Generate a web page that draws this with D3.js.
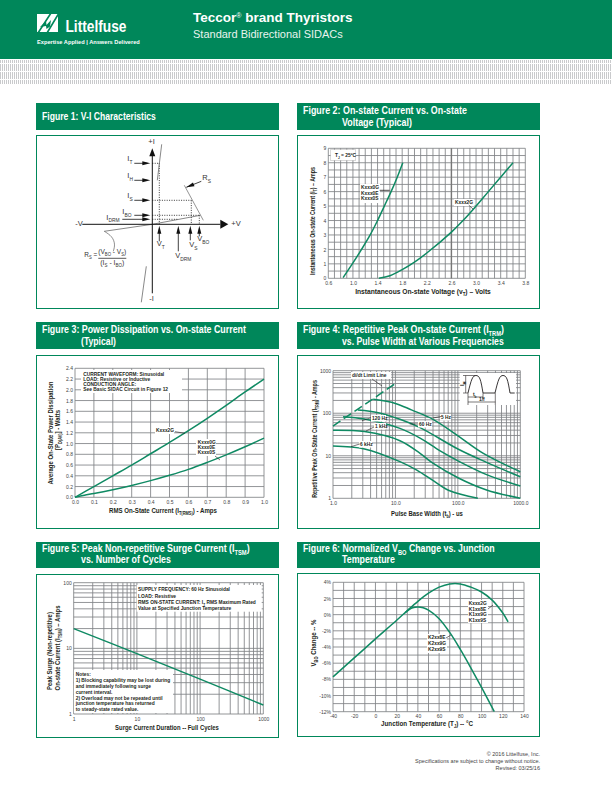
<!DOCTYPE html>
<html>
<head>
<meta charset="utf-8">
<script src="https://cdn.jsdelivr.net/npm/d3@7"></script>
<style>
html, body { margin: 0; padding: 0; background: #fff; }
svg { display: block; }
text { font-family: "Liberation Sans", sans-serif; fill: #231f20; }
.ttl { font-weight: bold; font-size: 10px; fill: #fff; }
.tick { font-size: 5px; fill: #444; }
.axl { font-weight: bold; font-size: 8px; }
.note { font-weight: bold; font-size: 5.6px; }
.grid { stroke: #808285; stroke-width: .85; fill: none; }
.curve { stroke: #0f8a63; stroke-width: 1.5; fill: none; }
.vi { font-size: 7.5px; fill: #333; }
</style>
</head>
<body>
<svg id="page" width="612" height="792" viewBox="0 0 612 792"></svg>
<script>
const GREEN = '#00875a';

// Figure 1 (schematic, in px units around the origin of the V-I axes)
const viUpperLine = [[5, 44], [9.4, 80]];
const viLower = [[-6, -42], [-11, -78]];
const viOff = [[-48, -7], [0, 0], [48, 9]];
const viRs = [[32, 39], [51, 4]];
const viDotted = [
    [[0, 61], [7, 61]], [[7, 61], [7, 0]],
    [[0, 24], [39, 24]], [[39, 24], [39, 0]],
    [[0, 9], [47, 9]], [[47, 9], [47, 0]],
    [[0, 5], [26, 5]]
];
const viLeftArrows = [[-18, 61], [-18, 44], [-18, 24], [-18, 9], [-30, 5]];
const viLeftNames = [['I', 'T', -25, 63], ['I', 'H', -25, 46], ['I', 'S', -25, 26], ['I', 'BO', -30, 10], ['I', 'DRM', -46, 4.5]];
const viUpArrows = [[7, -17], [26, -27], [38, -16], [47, -12]];
const viUpNames = [['V', 'T', 4.4, -22], ['V', 'DRM', 23, -34], ['V', 'S', 37, -23], ['V', 'BO', 45, -17]];

// Figure 2
const f2X = [0.6, 1.0, 1.4, 1.8, 2.2, 2.6, 3.0, 3.4, 3.8];
const f2Y = [0, 1, 2, 3, 4, 5, 6, 7, 8, 9];
const f2A = [[0.84, 0.05], [0.99, 1], [1.14, 2], [1.28, 3], [1.4, 4], [1.51, 5], [1.62, 6], [1.72, 7], [1.81, 8]];
const f2B = [[1.42, 0], [1.6, 0.18], [1.8, 0.6], [2.0, 1.12], [2.2, 1.75], [2.6, 3.2], [2.8, 4.05], [3.0, 5], [3.2, 6], [3.4, 7], [3.6, 8]];

// Figure 3
const f3X = [0, 0.1, 0.2, 0.3, 0.4, 0.5, 0.6, 0.7, 0.8, 0.9, 1.0];
const f3Y = [0, 0.2, 0.4, 0.6, 0.8, 1.0, 1.2, 1.4, 1.6, 1.8, 2.0, 2.2, 2.4];
const f3A = [[0, 0], [0.1, 0.2], [0.2, 0.4], [0.3, 0.6], [0.4, 0.81], [0.5, 1.02], [0.6, 1.24], [0.7, 1.47], [0.8, 1.71], [0.9, 1.96], [1, 2.2]];
const f3B = [[0, 0], [0.05, 0.04], [0.1, 0.07], [0.2, 0.14], [0.3, 0.22], [0.4, 0.31], [0.5, 0.41], [0.6, 0.52], [0.7, 0.65], [0.8, 0.79], [0.9, 0.94], [1, 1.1]];

// Figure 4
const f4Limit = [[1, 50], [10, 500]];
const f4Curves = [
    [[4.4, 212], [10, 170], [18, 120], [40, 72], [102, 29], [256, 11.4], [1000, 4.2]],
    [[2.5, 119], [5.3, 103], [11.8, 72], [24.8, 46], [102, 14.2], [288, 7], [1000, 3.2]],
    [[1.45, 83], [3.2, 73], [11.8, 44], [24.8, 26], [52, 13], [102, 7.5], [288, 3.6], [1000, 1.95]],
    [[1, 40], [3.2, 37], [11.8, 22.6], [24.8, 11.4], [40.4, 6.6], [102, 3], [288, 1.57], [1000, 1]],
    [[1, 17], [3.2, 14.5], [11.8, 7.3], [22, 4.6], [40.4, 2.6], [74, 1.5], [209, 1]]
];

// Figure 5
const f5Line = [[1, 20], [10, 8.3], [100, 3.4], [1000, 1.37]];

// Figure 6
const f6X = [-40, -20, 0, 20, 40, 60, 80, 100, 120, 140];
const f6Y = [-12, -10, -8, -6, -4, -2, 0, 2, 4];
const f6A = [[-40, -7.7], [-20, -5.35], [0, -3], [20, -0.7], [30, 0.5], [40, 1.65], [50, 2.65], [60, 3.4], [70, 3.8], [80, 3.8], [90, 3.4], [100, 2.8], [110, 1.8], [120, 0.2], [125, -0.9]];
const f6B = [[28, 0.25], [35, 0.85], [40, 0.95], [45, 0.85], [50, 0.55], [60, -0.5], [70, -2.2], [80, -4.3], [90, -6.6], [100, -9], [112, -12]];

const svg = d3.select('#page');
const line = d3.line().curve(d3.curveCatmullRom.alpha(0.5));

// no narrow font here, so squeeze the text sideways to the width it has in the chart
function fit(t, w) {
    const x = +t.attr('x') || 0, y = +t.attr('y') || 0;
    const k = w / t.node().getComputedTextLength();
    t.attr('transform', `${t.attr('transform') || ''} translate(${x} ${y}) scale(${k} 1) translate(${-x} ${-y})`);
    return t;
}

function squeeze(t, k) {
    return fit(t, t.node().getComputedTextLength() * k);
}

function band(x, y, w, h, lines) {
    svg.append('rect').attr('x', x).attr('y', y).attr('width', w).attr('height', h).attr('fill', GREEN);
    lines.forEach(l => {
        const t = svg.append('text').attr('class', 'ttl').attr('x', x + l[1]).attr('y', y + l[2]);
        sub(t, l[0]);
        fit(t, l[3]);
    });
}

// "I_{T}" style markup: ^ and _ segments become baseline shifted tspans
function sub(t, str) {
    const size = parseFloat(getComputedStyle(t.node()).fontSize);
    let shift = 0;
    str.split(/(_\{[^}]*\}|\^\{[^}]*\})/).forEach(part => {
        if (!part) return;
        const m = part.match(/^([_^])\{(.*)\}$/);
        const ts = t.append('tspan');
        if (m) {
            const d = m[1] === '_' ? size * 0.3 : -size * 0.35;
            ts.attr('dy', d - shift).style('font-size', (size * 0.65) + 'px').text(m[2]);
            shift = d;
        } else {
            ts.attr('dy', -shift).text(part);
            shift = 0;
        }
    });
}

function frame(x, y, w, h) {
    svg.append('rect').attr('x', x + .5).attr('y', y + .5).attr('width', w - 1).attr('height', h - 1)
        .attr('fill', '#fff').attr('stroke', GREEN).attr('stroke-width', 1);
}

function plot(o) {
    const g = svg.append('g');
    const x = o.xs, y = o.ys;
    const [x0, x1] = x.range(), [y0, y1] = y.range();
    o.xGrid.forEach(v => g.append('line').attr('class', 'grid').attr('x1', x(v)).attr('x2', x(v)).attr('y1', y0).attr('y2', y1));
    o.yGrid.forEach(v => g.append('line').attr('class', 'grid').attr('x1', x0).attr('x2', x1).attr('y1', y(v)).attr('y2', y(v)));
    const xa = d3.axisBottom(x).tickValues(o.xTicks).tickSize(0).tickPadding(3).tickFormat(o.xFmt);
    const ya = d3.axisLeft(y).tickValues(o.yTicks).tickSize(0).tickPadding(2).tickFormat(o.yFmt);
    const gx = g.append('g').attr('transform', `translate(0,${y0})`).call(xa);
    const gy = g.append('g').attr('transform', `translate(${x0},0)`).call(ya);
    [gx, gy].forEach(a => {
        a.select('.domain').remove();
        a.attr('font-family', null).attr('font-size', null);
        a.selectAll('text').attr('class', 'tick');
    });
    return g;
}

function curve(g, xs, ys, pts, dash) {
    const p = g.append('path').attr('class', 'curve').attr('d', line.x(d => xs(d[0])).y(d => ys(d[1]))(pts));
    if (dash) p.attr('stroke-dasharray', dash);
}

function whiteBox(g, x, y, w, h) {
    g.append('rect').attr('x', x).attr('y', y).attr('width', w).attr('height', h).attr('fill', '#fff');
}

function notes(g, x, y, step, lines) {
    lines.forEach((l, i) => {
        const t = g.append('text').attr('class', 'note').attr('x', x).attr('y', y + i * step);
        sub(t, l);
        squeeze(t, 0.87);
    });
}

function leader(g, pts, w) {
    g.append('path').attr('d', d3.line()(pts)).attr('fill', 'none').attr('stroke', '#231f20').attr('stroke-width', w || .6);
}

function vLabel(str, x, y, w) {
    const t = svg.append('text').attr('class', 'axl').attr('transform', `translate(${x},${y}) rotate(-90)`).attr('text-anchor', 'middle');
    sub(t, str);
    fit(t, w);
}

function xLabel(str, x, y, w) {
    const t = svg.append('text').attr('class', 'axl').attr('x', x).attr('y', y).attr('text-anchor', 'middle');
    sub(t, str);
    fit(t, w);
}

// ---- page header ----
svg.append('rect').attr('width', 612).attr('height', 59).attr('fill', GREEN);
const pat = svg.append('defs').append('pattern').attr('id', 'hatch').attr('patternUnits', 'userSpaceOnUse')
    .attr('width', 40).attr('height', 8);
d3.range(0, 40, 2).forEach(i => pat.append('rect').attr('x', i).attr('width', 1).attr('height', 7).attr('fill', '#c9cacc'));
svg.append('rect').attr('y', 60).attr('width', 612).attr('height', 24).attr('fill', 'url(#hatch)');

// logo
svg.append('rect').attr('x', 37).attr('y', 14).attr('width', 21).attr('height', 18).attr('fill', '#fff');
svg.append('path').attr('fill', 'none').attr('stroke', GREEN).attr('stroke-width', 1.6)
    .attr('d', 'M51 13L38 33M59 13L47 33');
svg.append('path').attr('fill', GREEN).attr('d', 'M40 27L46 21L46.5 25L51 20L50 26.5L46.5 29L46 26Z');
fit(svg.append('text').attr('x', 65.5).attr('y', 32).style('font-size', '17px').attr('font-weight', 'bold').style('fill', '#fff').text('Littelfuse'), 61);
fit(svg.append('text').attr('x', 37).attr('y', 44.5).style('font-size', '5.6px').attr('font-weight', 'bold').style('fill', '#fff')
    .text('Expertise Applied  |  Answers Delivered'), 103);

const hd = svg.append('text').attr('x', 193).attr('y', 22).style('font-size', '13.5px').attr('font-weight', 'bold').style('fill', '#fff');
hd.append('tspan').text('Teccor');
hd.append('tspan').style('font-size', '7px').attr('dy', -4).attr('font-weight', 'normal').style('fill', '#fff').text('®');
hd.append('tspan').attr('dy', 4).text(' brand Thyristors');
svg.append('text').attr('x', 193).attr('y', 38).style('font-size', '11px').style('fill', '#e8f3ee').text('Standard Bidirectional SIDACs');

// ---- bands and frames ----
band(36, 103, 243, 27, [['Figure 1: V-I Characteristics', 6, 17, 114]]);
band(297, 103, 243, 27, [['Figure 2: On-state Current vs. On-state', 6, 11, 164], ['Voltage (Typical)', 45, 23, 70]]);
band(36, 322, 243, 27, [['Figure 3: Power Dissipation vs. On-state Current', 6, 11, 204], ['(Typical)', 45, 23, 35]]);
band(297, 322, 243, 27, [['Figure 4: Repetitive Peak On-state Current (I_{TRM})', 6, 11, 201], ['vs. Pulse Width at Various Frequencies', 45, 23, 162]]);
band(36, 542, 243, 26, [['Figure 5: Peak Non-repetitive Surge Current (I_{TSM})', 6, 10, 208], ['vs. Number of Cycles', 45, 21, 90]]);
band(297, 542, 243, 26, [['Figure 6: Normalized V_{BO} Change vs. Junction', 6, 10, 192], ['Temperature', 45, 21, 53]]);
frame(36, 135, 243, 174);
frame(297, 135, 243, 174);
frame(36, 355, 243, 174);
frame(297, 355, 243, 174);
frame(36, 574, 243, 164);
frame(297, 573, 243, 164);

// ---- figure 1 ----
{
    const ox = 152.3, oy = 224.3;
    const sx = d3.scaleLinear().domain([0, 100]).range([ox, ox + 100]);
    const sy = d3.scaleLinear().domain([0, 100]).range([oy, oy - 100]);
    const g = svg.append('g');
    const p = pts => d3.line().x(d => sx(d[0])).y(d => sy(d[1]))(pts);
    const thin = (pts, col, w, dash) => g.append('path').attr('d', p(pts)).attr('fill', 'none')
        .attr('stroke', col).attr('stroke-width', w).attr('stroke-dasharray', dash || null);
    viDotted.forEach(d => thin(d, '#222', .9, '1 1.4'));
    thin(viUpperLine, '#555', .7);
    thin(viLower, '#555', .7);
    thin(viOff, '#555', .7);
    thin(viRs, '#666', .7);
    thin([[-70, 0], [68, 0]], '#111', 1);
    thin([[0, -69], [0, 70]], '#111', 1);
    const tri = (a, b, hw) => {
        const dx = b[0] - a[0], dy = b[1] - a[1], len = Math.hypot(dx, dy), ux = dx / len, uy = dy / len;
        g.append('path').attr('fill', '#111').attr('d', p([b, [b[0] - ux * 8 - uy * hw, b[1] - uy * 8 + ux * hw], [b[0] - ux * 8 + uy * hw, b[1] - uy * 8 - ux * hw]]) + 'Z');
    };
    tri([0, 60], [0, 76], 3);
    tri([60, 0], [76, 0], 4.5);
    viLeftArrows.forEach(a => {
        thin([a, [-5, a[1]]], '#111', .8);
        tri([a[0], a[1]], [-2, a[1]], 2);
    });
    viUpArrows.forEach(a => {
        thin([[a[0], a[1]], [a[0], -5]], '#111', .8);
        tri([a[0], a[1]], [a[0], -1.5], 2);
    });
    thin([[49, 43], [34, 37]], '#111', .8);
    tri([49, 43], [34, 37], 2);
    g.append('path').attr('fill', 'none').attr('stroke', '#444').attr('stroke-width', .6)
        .attr('d', d3.line().curve(d3.curveBasis).x(d => sx(d[0])).y(d => sy(d[1]))([[-48, -7], [-40, -12], [-37, -20], [-39, -27]]));
    const lab = (s, a, b, size) => {
        const t = g.append('text').attr('class', 'vi').attr('x', sx(a)).attr('y', sy(b));
        if (size) t.style('font-size', size + 'px');
        sub(t, s);
        return t;
    };
    [...viLeftNames, ...viUpNames].forEach(n => lab(n[0] + '_{' + n[1] + '}', n[2], n[3]));
    lab('R_{S}', 50, 44);
    lab('+I', -4, 80);
    lab('-I', -3, -77);
    lab('-V', -77, -2);
    lab('+V', 79, -2);
    fit(lab('R_{S} =', -68, -33, 7), 13);
    fit(lab('(V_{BO} - V_{S})', -54, -30, 7), 28);
    thin([[-54, -34], [-26, -34]], '#111', .7);
    fit(lab('(I_{S} - I_{BO})', -52, -41, 7), 24);
}

// ---- figure 2 ----
{
    const xs = d3.scaleLinear().domain([0.6, 3.8]).range([328.3, 525.3]);
    const ys = d3.scaleLinear().domain([0, 9]).range([278.3, 148.3]);
    const g = plot({ xs, ys, xGrid: d3.range(0, 33).map(i => 0.6 + i * 0.1), yGrid: d3.range(0, 19).map(i => i * 0.5),
        xTicks: f2X, yTicks: f2Y, xFmt: d3.format('.1f'), yFmt: d3.format('d') });
    g.append('line').attr('x1', xs(2.6)).attr('x2', xs(2.6)).attr('y1', ys(0)).attr('y2', ys(9)).attr('stroke', '#777').attr('stroke-width', 1.4);
    curve(g, xs, ys, f2A);
    curve(g, xs, ys, f2B);
    g.append('rect').attr('x', 330.5).attr('y', 149.5).attr('width', 25).attr('height', 11).attr('fill', '#fff')
        .attr('stroke', '#666').attr('stroke-width', .5).attr('stroke-dasharray', '1 1');
    notes(g, 335, 157, 6, ['T_{J} = 25ºC']);
    whiteBox(g, 360, 184, 20, 19);
    notes(g, 361, 189.5, 5.5, ['Kxxx0G', 'Kxxx0E', 'Kxxx0S']);
    leader(g, [[379.7, 190.3], [389.7, 190.3]], .8);
    whiteBox(g, 454, 199, 20, 7);
    notes(g, 455, 204, 6, ['Kxxx2G']);
    leader(g, [[468.7, 205], [473, 209]]);
    xLabel('Instantaneous On-state Voltage (v_{T}) – Volts', 423, 294, 136);
    vLabel('Instantaneous On-state Current (i_{T}) – Amps', 315, 221, 108);
}

// ---- figure 3 ----
{
    const xs = d3.scaleLinear().domain([0, 1]).range([75, 264]);
    const ys = d3.scaleLinear().domain([0, 2.4]).range([497.3, 368.3]);
    const g = plot({ xs, ys, xGrid: f3X, yGrid: f3Y, xTicks: f3X, yTicks: f3Y, xFmt: d3.format('.1f'), yFmt: d3.format('.1f') });
    curve(g, xs, ys, f3A);
    curve(g, xs, ys, f3B);
    whiteBox(g, 81, 370, 101, 23);
    notes(g, 83.3, 376, 5.1, ['CURRENT WAVEFORM: Sinusoidal', 'LOAD: Resistive or Inductive', 'CONDUCTION ANGLE:', 'See Basic SIDAC Circuit in Figure 12']);
    whiteBox(g, 155, 427, 19, 7);
    notes(g, 156, 432, 6, ['Kxxx2G']);
    leader(g, [[175, 431.7], [185, 433.3]]);
    whiteBox(g, 196, 439, 20, 17);
    notes(g, 197.7, 444, 5.1, ['Kxxx0G', 'Kxxx0E', 'Kxxx0S']);
    leader(g, [[215, 456], [220, 460]]);
    xLabel('RMS On-State Current (I_{T(RMS)}) - Amps', 163, 513, 108);
    vLabel('Average On-State Power Dissipation', 52.5, 433, 103);
    vLabel('[P_{D(AV)}] - Watts', 60, 430, 40);
}

// ---- figure 4 ----
{
    const xs = d3.scaleLog().domain([1, 1000]).range([333, 520.3]);
    const ys = d3.scaleLog().domain([1, 1000]).range([498.3, 370.7]);
    const minor = [];
    [1, 10, 100].forEach(d => [1, 2, 3, 4, 5, 6, 7, 8, 9].forEach(k => minor.push(d * k)));
    minor.push(1000);
    const g = plot({ xs, ys, xGrid: minor, yGrid: minor, xTicks: [1, 10, 100, 1000], yTicks: [1, 10, 100, 1000],
        xFmt: d3.format('.1f'), yFmt: d3.format('d') });
    curve(g, xs, ys, f4Limit, '9 4');
    f4Curves.forEach(c => curve(g, xs, ys, c));
    // pulse sketch in the corner
    whiteBox(g, 459.7, 373, 56.3, 32);
    const hump = d3.line().curve(d3.curveNatural);
    g.append('path').attr('fill', 'none').attr('stroke', '#231f20').attr('stroke-width', .9)
        .attr('d', hump([[468, 393], [472, 379], [476, 375.5], [480, 379], [483, 393]]) + 'M483 393H495'
            + hump([[495, 393], [499, 379], [503, 375.5], [507, 379], [510, 393]]) + 'M510 393H514.7');
    leader(g, [[463, 375.5], [475, 375.5]]);
    leader(g, [[463, 393], [468, 393]]);
    leader(g, [[465.7, 375.5], [465.7, 393]]);
    leader(g, [[468, 393], [468, 405]]);
    leader(g, [[483, 393], [483, 399]]);
    leader(g, [[495.3, 393], [495.3, 405]]);
    leader(g, [[468, 397], [483, 397]]);
    leader(g, [[468, 402], [495.3, 402]]);
    notes(g, 473, 396, 6, ['t_{b}']);
    notes(g, 479, 401.5, 6, ['1/f']);
    const lb = g.append('text').attr('class', 'note').attr('x', 464).attr('y', 386).attr('transform', 'rotate(-90 464 386)');
    sub(lb, 'I_{M}');
    whiteBox(g, 351, 372, 40, 7);
    notes(g, 352, 377.5, 6, ['di/dt Limit Line']);
    leader(g, [[372, 379], [382, 386]]);
    [['5 Hz', 441, 419, 11], ['60 Hz', 419, 426, 14], ['120 Hz', 372, 420, 15], ['1 kHz', 375, 428, 12], ['6 kHz', 360, 446, 13]].forEach(l => {
        whiteBox(g, l[1] - 1, l[2] - 5, l[3], 6.5);
        notes(g, l[1], l[2], 6, [l[0]]);
    });
    leader(g, [[433, 418], [441, 416.5]]);
    leader(g, [[409.7, 424], [418, 424]]);
    leader(g, [[362, 420.7], [371, 417.7]]);
    leader(g, [[366, 431], [374, 427]]);
    leader(g, [[351, 446.7], [359.7, 444]]);
    xLabel('Pulse Base Width (t_{b}) - us', 427, 515.7, 72);
    vLabel('Repetitive Peak On-State Current (I_{TRM}) - Amps', 317, 439, 118);
}

// ---- figure 5 ----
{
    const xs = d3.scaleLog().domain([1, 1000]).range([73.7, 263.3]);
    const ys = d3.scaleLog().domain([1, 100]).range([714, 582.7]);
    const xm = [], ym = [];
    [1, 10, 100].forEach(d => [1, 2, 3, 4, 5, 6, 7, 8, 9].forEach(k => xm.push(d * k)));
    xm.push(1000);
    [1, 10].forEach(d => [1, 2, 3, 4, 5, 6, 7, 8, 9].forEach(k => ym.push(d * k)));
    ym.push(100);
    const g = plot({ xs, ys, xGrid: xm, yGrid: ym, xTicks: [1, 10, 100, 1000], yTicks: [1, 10, 100], xFmt: d3.format('d'), yFmt: d3.format('d') });
    curve(g, xs, ys, f5Line);
    whiteBox(g, 136.7, 585, 125, 26.7);
    notes(g, 138, 591.5, 6.2, ['SUPPLY FREQUENCY: 60 Hz Sinusoidal', 'LOAD: Resistive', 'RMS ON-STATE CURRENT: I_{T}  RMS Maximum Rated']);
    notes(g, 138, 610, 6, ['Value at Specified Junction Temperature']);
    whiteBox(g, 74, 670, 99, 43);
    notes(g, 75.7, 676, 5.9, ['Notes:', '1) Blocking capability may be lost during', 'and immediately following surge', 'current interval.', '2) Overload may not be repeated until', 'junction temperature has returned', 'to steady-state rated value.']);
    xLabel('Surge Current Duration -- Full Cycles', 167, 730, 104);
    vLabel('Peak Surge (Non-repetitive)', 52, 651, 78);
    vLabel('On-state Current (I_{TSM}) – Amps', 60, 648, 85);
}

// ---- figure 6 ----
{
    const xs = d3.scaleLinear().domain([-40, 140]).range([333, 524]);
    const ys = d3.scaleLinear().domain([-12, 4]).range([711.7, 582.3]);
    const g = plot({ xs, ys, xGrid: d3.range(-40, 141, 10), yGrid: d3.range(-12, 5, 1), xTicks: f6X, yTicks: f6Y,
        xFmt: d => String(d), yFmt: d => d + '%' });
    curve(g, xs, ys, f6A);
    curve(g, xs, ys, f6B);
    whiteBox(g, 468, 600, 20, 23);
    notes(g, 468.7, 605, 5.7, ['Kxxx2G', 'K1xx8E', 'K1xx9G', 'K1xx9S']);
    leader(g, [[488, 609], [493, 605]]);
    whiteBox(g, 427, 634, 20, 19);
    notes(g, 428, 639, 6, ['K2xx8E', 'K2xx9G', 'K2xx9S']);
    leader(g, [[446, 638], [451, 635]]);
    xLabel('Junction Temperature (T_{J}) -- °C', 427, 725.7, 92);
    vLabel('V_{BO} Change -- %', 316, 643, 47);
}

// ---- footer ----
[['© 2016 Littelfuse, Inc.', 756], ['Specifications are subject to change without notice.', 763.5], ['Revised: 03/25/16', 770.5]].forEach(f => {
    const t = svg.append('text').attr('x', 540).attr('y', f[1]).attr('text-anchor', 'end').style('font-size', '6px').style('fill', '#444').text(f[0]);
    const k = 0.92, x = 540;
    t.attr('transform', `translate(${x} 0) scale(${k} 1) translate(${-x} 0)`);
});
</script>
</body>
</html>
